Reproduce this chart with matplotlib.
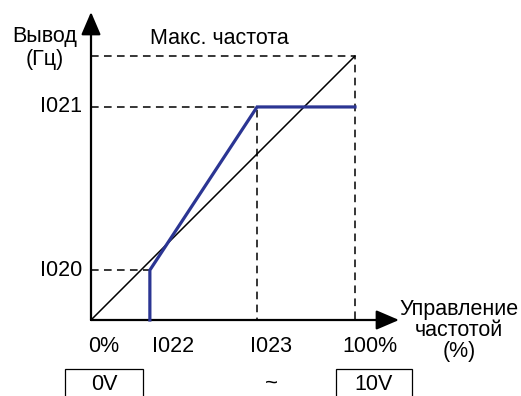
import matplotlib.pyplot as plt
from matplotlib.patches import FancyArrowPatch, Rectangle

plt.rcParams["font.family"] = ["Liberation Sans", "DejaVu Sans"]

# characteristic values (percent of full scale)
diag_x = [0, 100]
diag_y = [0, 100]
i022 = 22.3
i023 = 62.9
i020 = 18.9
i021 = 80.7
max_freq = 100
blue_x = [i022, i022, i023, 100]
blue_y = [0, i020, i021, i021]

x_ticks = [0, i022, i023, 100]
x_tick_labels = ["0%", "I022", "I023", "100%"]
y_ticks = [i020, i021]
y_tick_labels = ["I020", "I021"]

# 1 data unit = 2.64 px, origin at pixel (91, 320)
S = 2.64
fig = plt.figure(figsize=(5.21, 3.96), dpi=100)
ax = fig.add_axes([0, 0, 1, 1])
ax.set_xlim(-91 / S, (521 - 91) / S)
ax.set_ylim((320 - 396) / S, 320 / S)
ax.axis("off")


def px(x, y):
    return ((x - 91) / S, (320 - y) / S)


dash = dict(color="black", lw=1.1, linestyle=(0, (5, 3.5)))
ax.plot([0, 100, 100], [max_freq, max_freq, 0], **dash)
ax.plot([0, i023, i023], [i021, i021, 0], **dash)
ax.plot([0, i022], [i020, i020], **dash)

ax.plot(diag_x, diag_y, color="black", lw=1.1)
ax.plot(blue_x, blue_y, color="#2b3593", lw=2.3, solid_joinstyle="miter")

# axes with arrows
for tip in [px(91, 12), px(399, 320)]:
    ax.add_patch(FancyArrowPatch((0, 0), tip,
                                 arrowstyle="-|>,head_length=1.4,head_width=0.6",
                                 mutation_scale=10, lw=1.6, color="black",
                                 shrinkA=0, shrinkB=0))

fs = 15.5
for xv, lab, xc in zip(x_ticks, x_tick_labels, [104, 173, 271, 370]):
    ax.text(*px(xc, 346), lab, fontsize=fs, ha="center", va="center")
for yv, lab in zip(y_ticks, y_tick_labels):
    ax.text(-9 / S, yv, lab, fontsize=fs, ha="right", va="center")

ax.text(*px(45, 48), "Вывод\n(Гц)", fontsize=fs, ha="center", va="center",
        linespacing=1.1)
ax.text(*px(219, 38), "Макс. частота", fontsize=fs, ha="center", va="center")
ax.text(*px(459, 330), "Управление\nчастотой\n(%)", fontsize=fs,
        ha="center", va="center", linespacing=1.0)

# voltage boxes
for x0, x1, lab in [(65, 143, "0V"), (336, 412, "10V")]:
    a = px(x0, 400)
    b = px(x1, 369)
    ax.add_patch(Rectangle(a, b[0] - a[0], b[1] - a[1], fill=False,
                           lw=0.9, ec="black"))
    ax.text(*px((x0 + x1) / 2, 384), lab, fontsize=fs, ha="center", va="center")
ax.text(*px(271, 383), "~", fontsize=16, ha="center", va="center")

plt.savefig("out.png", dpi=100)
